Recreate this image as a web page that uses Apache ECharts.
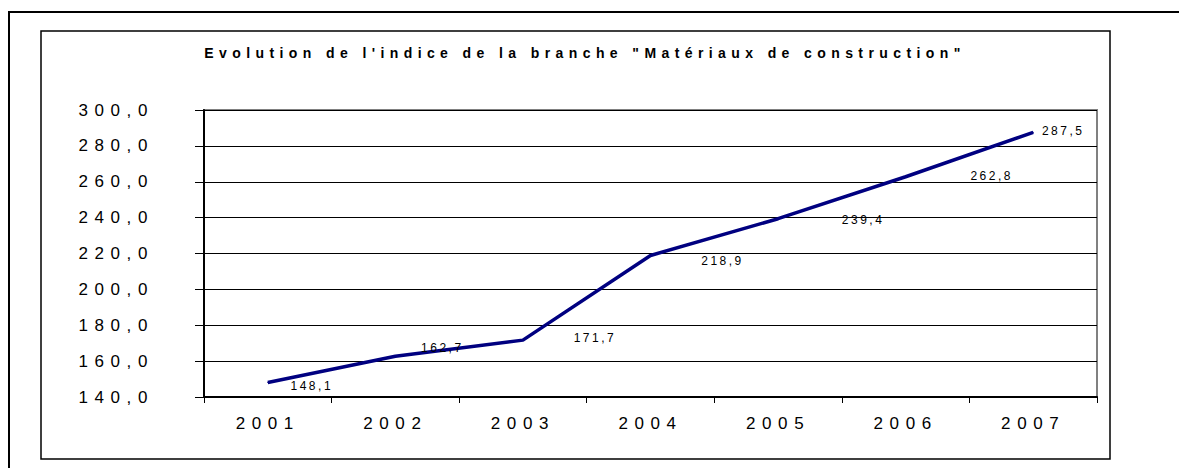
<!DOCTYPE html>
<html>
<head>
<meta charset="utf-8">
<script src="https://cdn.jsdelivr.net/npm/echarts@6/dist/echarts.min.js"></script>
<style>
  html, body { margin: 0; padding: 0; background: #fff; }
  #chart { width: 1179px; height: 468px; }
</style>
</head>
<body>
<div id="chart"></div>
<script>
// --- data ---
const years = ['2001', '2002', '2003', '2004', '2005', '2006', '2007'];
const indexValues = [148.1, 162.7, 171.7, 218.9, 239.4, 262.8, 287.5];
const yTicks = { min: 140, max: 300, step: 20 };
const titleText = 'Evolution de l\'indice de la branche "Matériaux de construction"';

// --- style ---
const FONT = '"Liberation Sans", Arial, sans-serif';
const LINE_COLOR = '#000080';
// label offsets (px) from each point, Excel put them a bit everywhere
const LABEL_OFFSETS = [[44, 4], [47, -8], [72, -2], [72, 6], [85, 1], [86, -1], [30, -1]];
// letter spacing by font size, the original text is very spread out
const SPACING = { 17: 6.6, 14: 5.4, 12: 2.5 };

const fmt = v => v.toFixed(1).replace('.', ',');

const chart = echarts.init(document.getElementById('chart'), null, { renderer: 'svg' });

const option = {
  animation: false,
  backgroundColor: '#fff',
  graphic: [
    // outer frame (only top + left visible)
    { type: 'polyline', shape: { points: [[9, 468], [9, 12], [1179, 12]] },
      style: { stroke: '#000', lineWidth: 2, fill: null } },
    // chart area frame
    { type: 'rect', shape: { x: 41, y: 31, width: 1069, height: 428 },
      style: { stroke: '#000', lineWidth: 1.5, fill: null } },
    { type: 'text', x: 585, y: 53,
      style: { text: titleText, align: 'center', verticalAlign: 'middle',
               font: 'bold 14px ' + FONT, fill: '#000' } }
  ],
  grid: {
    left: 204, right: 82, top: 110, bottom: 71,
    show: true, borderColor: '#808080', borderWidth: 2
  },
  xAxis: {
    type: 'category',
    data: years,
    boundaryGap: true,
    axisLine: { lineStyle: { color: '#000', width: 2 } },
    axisTick: { show: true, length: 6, lineStyle: { color: '#000' } },
    axisLabel: { color: '#000', fontSize: 17, fontFamily: FONT, margin: 18 },
    splitLine: { show: false }
  },
  yAxis: {
    type: 'value',
    min: yTicks.min,
    max: yTicks.max,
    interval: yTicks.step,
    axisLine: { show: true, lineStyle: { color: '#000', width: 2 } },
    axisTick: { show: true, length: 9, lineStyle: { color: '#000' } },
    axisLabel: { color: '#000', fontSize: 17, fontFamily: FONT, margin: 50, formatter: fmt },
    splitLine: { show: true, lineStyle: { color: '#000', width: 1 } }
  },
  series: [{
    type: 'line',
    data: indexValues.map((v, i) => ({
      value: v,
      label: { offset: LABEL_OFFSETS[i] }
    })),
    symbol: 'circle',
    symbolSize: 1,
    itemStyle: { color: LINE_COLOR },
    lineStyle: { color: LINE_COLOR, width: 3.5 },
    label: {
      show: true,
      position: 'inside',
      color: '#000',
      fontSize: 12,
      fontFamily: FONT,
      formatter: p => fmt(p.value)
    }
  }]
};

chart.setOption(option);

// spread the letters like in the original picture
const applySpacing = () => {
  document.querySelectorAll('#chart svg text').forEach(t => {
    const size = Math.round(parseFloat(getComputedStyle(t).fontSize));
    const ls = SPACING[size];
    if (ls != null && t.style.letterSpacing !== ls + 'px') t.style.letterSpacing = ls + 'px';
  });
};
chart.on('finished', applySpacing);
new MutationObserver(applySpacing).observe(document.getElementById('chart'), { childList: true, subtree: true });
setTimeout(applySpacing, 50);
</script>
</body>
</html>
